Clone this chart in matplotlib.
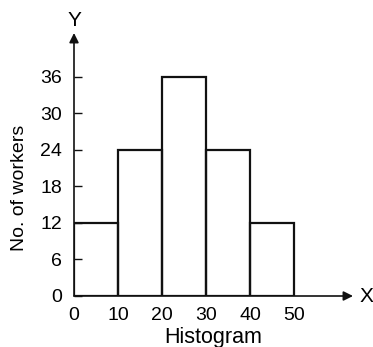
import matplotlib.pyplot as plt

plt.rcParams['font.family'] = ['Liberation Sans', 'DejaVu Sans']

# --- data ---
class_starts = [0, 10, 20, 30, 40]
class_width = 10
workers = [12, 24, 36, 24, 12]
x_ticks = [0, 10, 20, 30, 40, 50]
y_ticks = [0, 6, 12, 18, 24, 30, 36]

fig = plt.figure(figsize=(3.73, 3.47), dpi=100)
ax = fig.add_axes([74 / 373, 51 / 347, 279 / 373, 263 / 347])

ax.bar(class_starts, workers, width=class_width, align='edge',
       fill=False, edgecolor='#111111', linewidth=1.6)

ax.set_xlim(0, 63.4)
ax.set_ylim(0, 43.2)

for side in ['top', 'right', 'left', 'bottom']:
    ax.spines[side].set_visible(False)

# axis arrows
ax.annotate('', xy=(1, 0), xytext=(0, 0), xycoords='axes fraction',
            arrowprops=dict(arrowstyle='-|>', color='#111111', lw=1.2,
                            mutation_scale=14, shrinkA=0, shrinkB=0))
ax.annotate('', xy=(0, 1), xytext=(0, 0), xycoords='axes fraction',
            arrowprops=dict(arrowstyle='-|>', color='#111111', lw=1.2,
                            mutation_scale=14, shrinkA=0, shrinkB=0))
ax.text(1.022, 0, 'X', transform=ax.transAxes, fontsize=15,
        ha='left', va='center')
ax.text(0, 1.01, 'Y', transform=ax.transAxes, fontsize=15,
        ha='center', va='bottom')

ax.set_xticks(x_ticks)
ax.set_xticklabels([str(v) for v in x_ticks])
ax.set_yticks(y_ticks)
ax.set_yticklabels([str(v) for v in y_ticks])
ax.tick_params(axis='x', length=0, pad=8, labelsize=14)
ax.tick_params(axis='y', direction='in', length=6, width=1.0,
               pad=8.5, labelsize=14, color='#111111')

ax.set_xlabel('Histogram', fontsize=15.5, labelpad=2)
ax.set_ylabel('No. of workers', fontsize=14)
ax.yaxis.set_label_coords(-0.165, 0.41)

fig.savefig('out.png', dpi=100)
